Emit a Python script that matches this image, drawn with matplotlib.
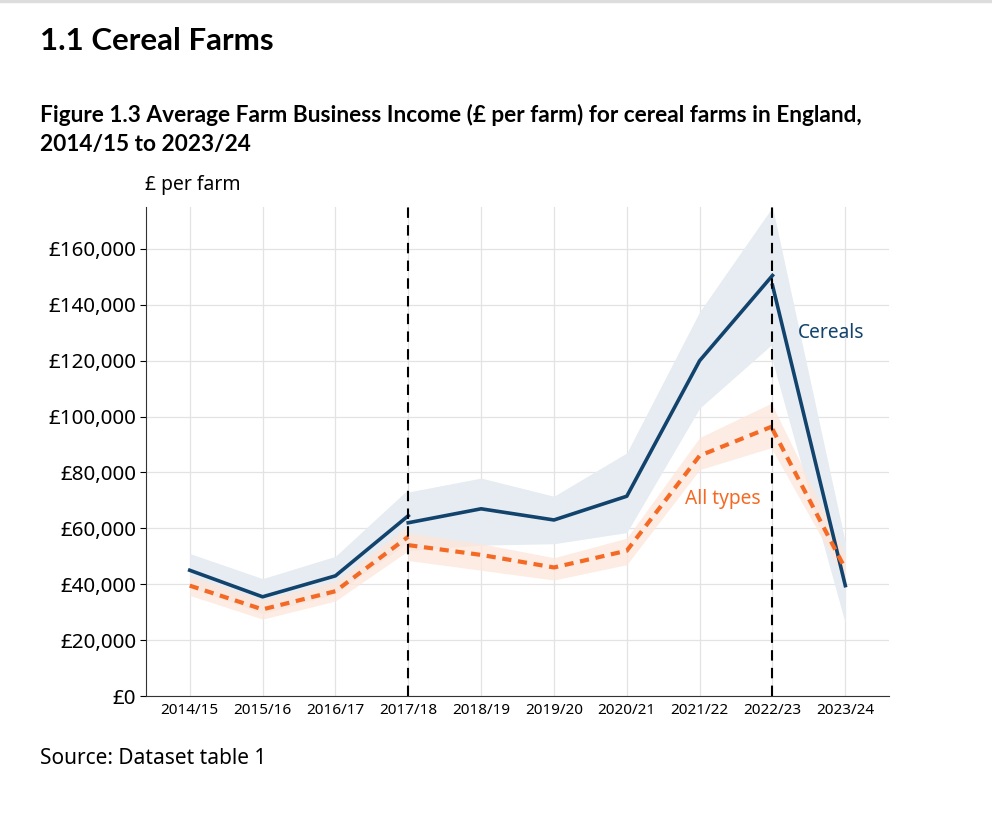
import matplotlib
matplotlib.use("Agg")
import matplotlib.pyplot as plt
import numpy as np

plt.rcParams['font.family'] = ['Noto Sans', 'DejaVu Sans']

years = ["2014/15", "2015/16", "2016/17", "2017/18", "2018/19",
         "2019/20", "2020/21", "2021/22", "2022/23", "2023/24"]

# three segments split at the methodology breaks (2017/18 and 2022/23)
seg_idx = [[0, 1, 2, 3], [3, 4, 5, 6, 7, 8], [8, 9]]

cereals = [[45000, 35500, 43000, 64500],
           [62000, 67000, 63000, 71500, 120000, 150500],
           [147000, 39500]]
cereals_lo = [[39000, 29500, 36500, 55000],
              [52000, 54000, 54500, 58500, 103000, 126000],
              [120000, 26000]]
cereals_hi = [[51000, 42000, 50000, 74000],
              [73000, 78000, 71500, 87000, 137500, 175000],
              [175000, 55000]]

alltypes = [[39500, 31000, 37500, 57000],
            [54000, 50500, 46000, 52000, 86000, 96500],
            [95500, 45500]]
alltypes_lo = [[36000, 27500, 34000, 52000],
               [48500, 45000, 41500, 47000, 81000, 89000],
               [88000, 41500]]
alltypes_hi = [[43000, 34500, 41000, 61000],
               [58500, 54500, 49500, 56500, 92500, 105000],
               [104000, 50500]]

breaks = [3, 8]

blue = "#12436D"
orange = "#F46A25"

fig = plt.figure(figsize=(9.92, 8.17), dpi=100)
ax = fig.add_axes([0.1472, 0.1481, 0.7490, 0.5985])

for i, idx in enumerate(seg_idx):
    ax.fill_between(idx, cereals_lo[i], cereals_hi[i], color="#E6ECF1", lw=0, zorder=1)
    ax.fill_between(idx, alltypes_lo[i], alltypes_hi[i], color="#FDE6DA", alpha=0.75, lw=0, zorder=1)
for i, idx in enumerate(seg_idx):
    ax.plot(idx, cereals[i], color=blue, lw=2.6, zorder=3)
    ax.plot(idx, alltypes[i], color=orange, lw=3, ls=(0, (2.2, 1.6)), zorder=3)

for b in breaks:
    ax.axvline(b, color="black", lw=1.5, ls=(0, (5, 3.5)), zorder=4)

ax.text(8.35, 130000, "Cereals", color=blue, fontsize=13.8, va="center")
ax.text(6.8, 70500, "All types", color=orange, fontsize=13.8, va="center")

ax.set_xlim(-0.6, 9.6)
ax.set_ylim(0, 175000)
ax.set_xticks(range(len(years)))
ax.set_xticklabels(years, fontsize=11)
ax.set_yticks(np.arange(0, 160001, 20000))
ax.set_yticklabels(["£0" if v == 0 else "£{:,}".format(v) for v in range(0, 160001, 20000)], fontsize=14.8)
ax.tick_params(axis="x", length=0, pad=5)
ax.tick_params(axis="y", length=4, width=0.8, pad=3)
ax.grid(True, color="#E3E3E3", lw=0.9, zorder=0)
ax.set_axisbelow(True)
for s in ["top", "right"]:
    ax.spines[s].set_visible(False)
ax.spines["left"].set_color("#333333")
ax.spines["bottom"].set_color("#333333")

bold = ['Lato', 'DejaVu Sans']
fig.text(0.040, 1 - 41 / 817, "1.1 Cereal Farms", fontsize=22.5, fontweight="bold", family=bold, va="center")
fig.text(0.040, 1 - 115 / 817, "Figure 1.3 Average Farm Business Income (£ per farm) for cereal farms in England,",
         fontsize=16.3, fontweight="bold", family=bold, va="center")
fig.text(0.040, 1 - 145 / 817, "2014/15 to 2023/24", fontsize=16.3, fontweight="bold", family=bold, va="center")
fig.text(145 / 992, 1 - 185 / 817, "£ per farm", fontsize=13.9, va="center")
fig.text(0.040, 1 - 759 / 817, "Source: Dataset table 1", fontsize=15, va="center")
fig.add_artist(plt.Line2D([0, 1], [0.999, 0.999], color="#DDDDDD", lw=2.5))

fig.savefig("out.png", dpi=100)
